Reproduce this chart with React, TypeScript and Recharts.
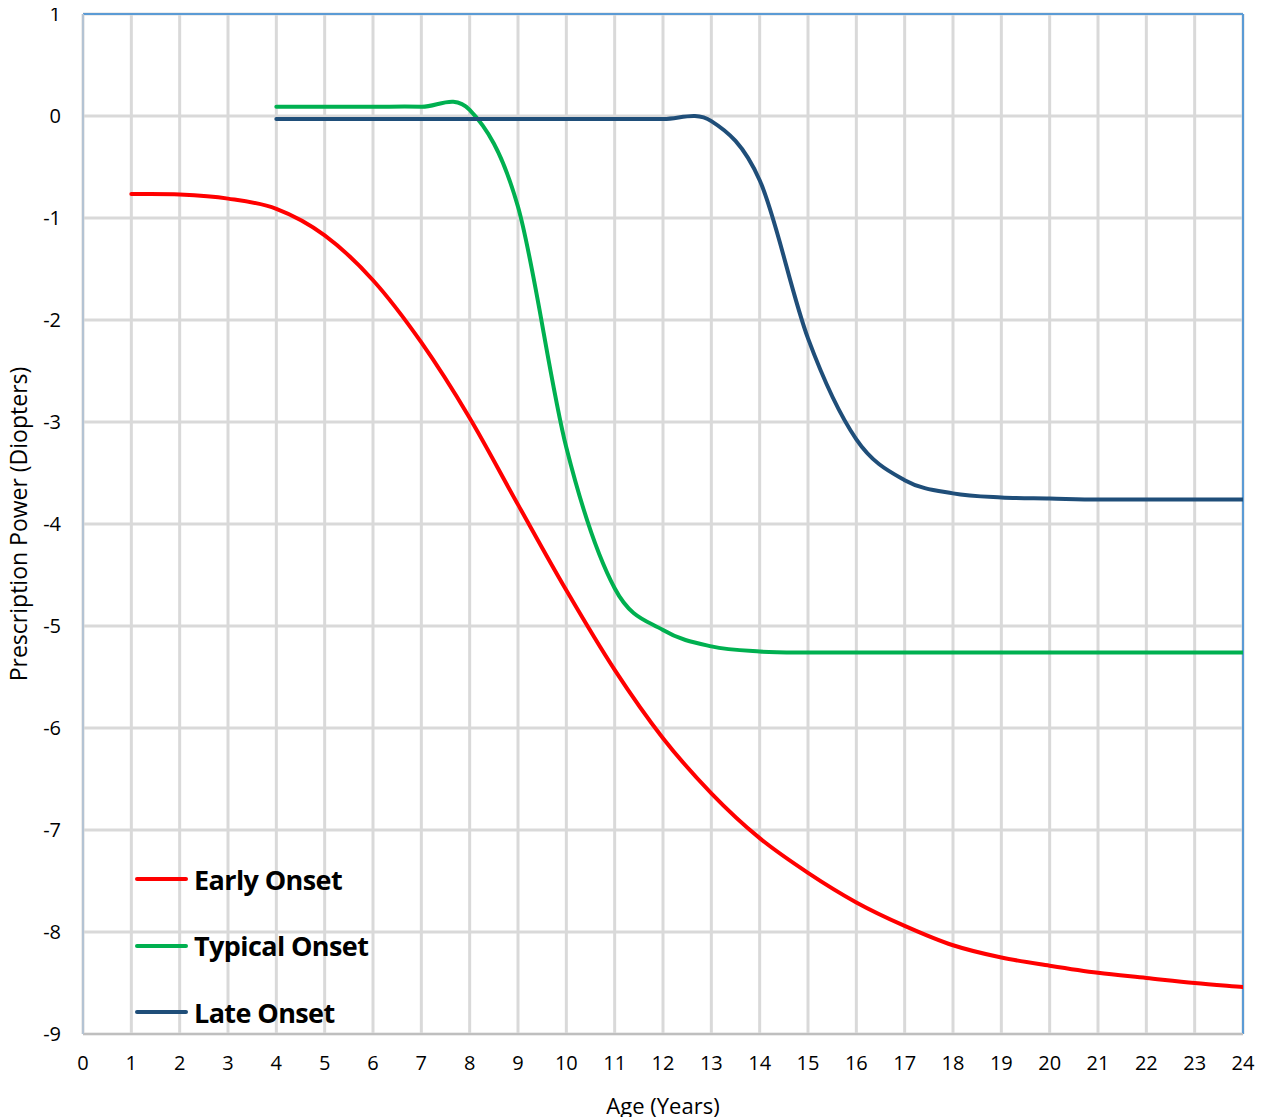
import React from "react";
import {
  LineChart,
  Line,
  XAxis,
  YAxis,
  CartesianGrid,
  ReferenceLine,
} from "recharts";

const xTicks = [0, 1, 2, 3, 4, 5, 6, 7, 8, 9, 10, 11, 12, 13, 14, 15, 16, 17, 18, 19, 20, 21, 22, 23, 24];
const yTicks = [1, 0, -1, -2, -3, -4, -5, -6, -7, -8, -9];

const earlyAges = [1, 2, 3, 4, 5, 6, 7, 8, 9, 10, 11, 12, 13, 14, 15, 16, 17, 18, 19, 20, 21, 22, 23, 24];
const earlyValues = [-0.765, -0.77, -0.81, -0.91, -1.17, -1.61, -2.22, -2.96, -3.81, -4.65, -5.43, -6.1, -6.64, -7.08, -7.42, -7.71, -7.94, -8.13, -8.25, -8.33, -8.4, -8.45, -8.5, -8.54];

const typicalAges = [4, 5, 6, 7, 8, 9, 10, 11, 12, 13, 14, 15, 16, 17, 18, 19, 20, 21, 22, 23, 24];
const typicalValues = [0.09, 0.09, 0.09, 0.09, 0.06, -0.89, -3.25, -4.63, -5.04, -5.2, -5.25, -5.26, -5.26, -5.26, -5.26, -5.26, -5.26, -5.26, -5.26, -5.26, -5.26];

const lateAges = [4, 5, 6, 7, 8, 9, 10, 11, 12, 13, 14, 15, 16, 17, 18, 19, 20, 21, 22, 23, 24];
const lateValues = [-0.03, -0.03, -0.03, -0.03, -0.03, -0.03, -0.03, -0.03, -0.03, -0.05, -0.63, -2.18, -3.17, -3.57, -3.7, -3.74, -3.75, -3.76, -3.76, -3.76, -3.76];

const seriesNames = ["Early Onset", "Typical Onset", "Late Onset"];
const seriesColors = ["#FF0000", "#00B050", "#1F4E79"];

const toData = (ages: number[], values: number[]) => ages.map((x, i) => ({ x, y: values[i] }));

const seriesData = [
  toData(earlyAges, earlyValues),
  toData(typicalAges, typicalValues),
  toData(lateAges, lateValues),
];

// Catmull-Rom style smoothing (like a spreadsheet "smoothed line")
const smoothCurve: any = (context: any) => {
  let pts: number[][] = [];
  return {
    areaStart() {},
    areaEnd() {},
    lineStart() {
      pts = [];
    },
    point(x: number, y: number) {
      pts.push([+x, +y]);
    },
    lineEnd() {
      const n = pts.length;
      if (!n) return;
      context.moveTo(pts[0][0], pts[0][1]);
      if (n === 1) return;
      const tan = (i: number) => {
        const a = pts[Math.max(0, i - 1)];
        const b = pts[Math.min(n - 1, i + 1)];
        const k = i === 0 || i === n - 1 ? 1 : 0.5;
        return [(b[0] - a[0]) * k, (b[1] - a[1]) * k];
      };
      for (let i = 0; i < n - 1; i++) {
        const p0 = pts[i];
        const p1 = pts[i + 1];
        const m0 = tan(i);
        const m1 = tan(i + 1);
        context.bezierCurveTo(
          p0[0] + m0[0] / 3,
          p0[1] + m0[1] / 3,
          p1[0] - m1[0] / 3,
          p1[1] - m1[1] / 3,
          p1[0],
          p1[1]
        );
      }
    },
  };
};

const FONT = "'Open Sans', 'Liberation Sans', sans-serif";

export default function App() {
  return (
    <div style={{ position: "relative", width: 1250, height: 1109, background: "#fff" }}>
      <LineChart width={1250} height={1109} margin={{ top: 6, right: 15, bottom: 0, left: 0 }}>
        <CartesianGrid stroke="#D9D9D9" strokeWidth={3} horizontalValues={yTicks} verticalValues={xTicks} />
        <XAxis
          type="number"
          dataKey="x"
          domain={[0, 24]}
          ticks={xTicks}
          interval={0}
          allowDataOverflow
          tickLine={false}
          tickSize={0}
          tickMargin={22}
          height={83}
          axisLine={{ stroke: "#BFBFBF", strokeWidth: 2 }}
          tick={{ fill: "#000", fontSize: 20, fontFamily: FONT }}
          label={{ value: "Age (Years)", position: "insideBottom", offset: 3, fill: "#000", fontSize: 22, fontFamily: FONT }}
        />
        <YAxis
          type="number"
          dataKey="y"
          domain={[-9, 1]}
          ticks={yTicks}
          interval={0}
          allowDataOverflow
          tickLine={false}
          tickSize={0}
          tickMargin={22}
          width={75}
          axisLine={{ stroke: "#B4C3D3", strokeWidth: 2 }}
          tick={{ fill: "#000", fontSize: 20, fontFamily: FONT }}
          label={{ value: "Prescription Power (Diopters)", angle: -90, position: "insideLeft", offset: 0, dx: 11, style: { textAnchor: "middle" }, fill: "#000", fontSize: 23, fontFamily: FONT }}
        />
        <ReferenceLine y={1} stroke="#5B9BD5" strokeWidth={2} />
        <ReferenceLine x={24} stroke="#5B9BD5" strokeWidth={2} />
        {seriesData.map((d, i) => (
          <Line
            key={seriesNames[i]}
            data={d}
            dataKey="y"
            name={seriesNames[i]}
            type={smoothCurve}
            stroke={seriesColors[i]}
            strokeWidth={4}
            strokeLinecap="round"
            dot={false}
            activeDot={false}
            isAnimationActive={false}
          />
        ))}
      </LineChart>
      <div style={{ position: "absolute", left: 127, top: 838, fontFamily: FONT }}>
        {seriesNames.map((n, i) => (
          <div key={n} style={{ display: "flex", alignItems: "center", height: 66.5 }}>
            <div style={{ width: 53, height: 4, borderRadius: 2, background: seriesColors[i], marginRight: 6 }} />
            <span style={{ fontSize: 27, fontWeight: 700, color: "#000", letterSpacing: -0.6 }}>{n}</span>
          </div>
        ))}
      </div>
    </div>
  );
}
